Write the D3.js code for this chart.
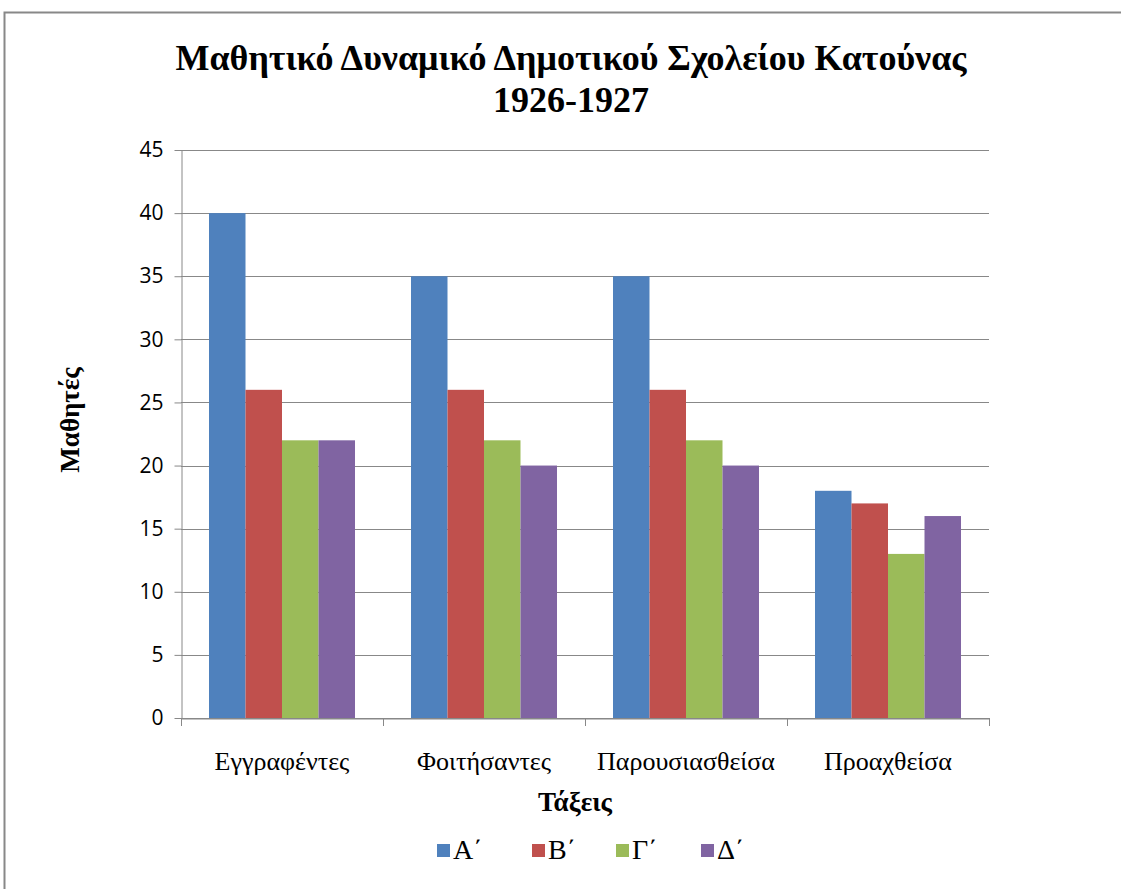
<!DOCTYPE html>
<html>
<head>
<meta charset="utf-8">
<script src="https://cdn.jsdelivr.net/npm/d3@7"></script>
<style>
  body { margin: 0; background: #fff; }
</style>
</head>
<body>
<svg id="chart"></svg>
<script>
const categories = ["Εγγραφέντες", "Φοιτήσαντες", "Παρουσιασθείσα", "Προαχθείσα"];
const seriesNames = ["Α΄", "Β΄", "Γ΄", "Δ΄"];
const seriesA = [40, 35, 35, 18];
const seriesB = [26, 26, 26, 17];
const seriesG = [22, 22, 22, 13];
const seriesD = [22, 20, 20, 16];
const yTicks = [0, 5, 10, 15, 20, 25, 30, 35, 40, 45];
const colors = ["#4F81BD", "#C0504D", "#9BBB59", "#8064A2"];

const allSeries = [seriesA, seriesB, seriesG, seriesD];
const width = 1121, height = 889;
const plotLeft = 181, plotRight = 989, plotTop = 150, plotBottom = 718;
const serif = "Liberation Serif, Times New Roman, serif";

const svg = d3.select("#chart").attr("width", width).attr("height", height);

// outer frame
svg.append("rect")
  .attr("x", 4.5).attr("y", 12.5)
  .attr("width", 1130).attr("height", 900)
  .attr("fill", "none").attr("stroke", "#888").attr("stroke-width", 2);

// title
const title = svg.append("text")
  .attr("text-anchor", "middle")
  .attr("font-family", serif)
  .attr("font-weight", "bold").attr("font-size", 36)
  .attr("fill", "#000");
title.append("tspan").attr("x", 571).attr("y", 70).text("Μαθητικό Δυναμικό Δημοτικού Σχολείου Κατούνας");
title.append("tspan").attr("x", 571).attr("y", 112).text("1926-1927");

const x0 = d3.scaleBand().domain(categories).range([plotLeft, plotRight]).paddingInner(0).paddingOuter(0);
const x1 = d3.scaleBand().domain(d3.range(seriesNames.length)).range([0, x0.bandwidth()]).paddingOuter(0.767).paddingInner(0);
const y = d3.scaleLinear().domain([0, 45]).range([plotBottom, plotTop]);

// gridlines
svg.append("g").selectAll("line").data(yTicks).join("line")
  .attr("x1", plotLeft).attr("x2", plotRight)
  .attr("y1", d => Math.round(y(d)) + 0.5).attr("y2", d => Math.round(y(d)) + 0.5)
  .attr("stroke", "#888").attr("stroke-width", 1);

// bars
const groups = svg.append("g").selectAll("g").data(categories).join("g")
  .attr("transform", d => `translate(${x0(d)},0)`);
groups.selectAll("rect")
  .data((d, i) => allSeries.map((s, j) => ({ s: j, v: s[i] })))
  .join("rect")
  .attr("x", d => x1(d.s))
  .attr("width", x1.bandwidth())
  .attr("y", d => y(d.v))
  .attr("height", d => y(0) - y(d.v))
  .attr("fill", d => colors[d.s]);

// y axis
const yAxis = svg.append("g")
  .attr("transform", `translate(${plotLeft + 0.5},0)`)
  .call(d3.axisLeft(y).tickValues(yTicks).tickSize(7).tickSizeOuter(0).tickPadding(11));
yAxis.select(".domain").attr("stroke", "#888");
yAxis.selectAll(".tick line").attr("stroke", "#888");
yAxis.selectAll(".tick text")
  .attr("font-family", "Open Sans, DejaVu Sans, sans-serif")
  .attr("font-size", 21).attr("fill", "#000");

// x axis
const xAxis = svg.append("g")
  .attr("transform", `translate(0,${plotBottom + 0.5})`)
  .call(d3.axisBottom(x0).tickSize(0).tickSizeOuter(0).tickPadding(33));
xAxis.select(".domain").attr("stroke", "#888");
xAxis.selectAll(".tick text")
  .attr("font-family", serif)
  .attr("font-size", 26).attr("fill", "#000");
// category boundary ticks
svg.append("g").selectAll("line")
  .data(categories.concat(["end"]))
  .join("line")
  .attr("x1", (d, i) => (i < categories.length ? x0(d) : plotRight) + 0.5)
  .attr("x2", (d, i) => (i < categories.length ? x0(d) : plotRight) + 0.5)
  .attr("y1", plotBottom).attr("y2", plotBottom + 8)
  .attr("stroke", "#888");

// axis titles
svg.append("text")
  .attr("x", 575).attr("y", 811)
  .attr("text-anchor", "middle")
  .attr("font-family", serif)
  .attr("font-weight", "bold").attr("font-size", 27)
  .text("Τάξεις");
svg.append("text")
  .attr("transform", "translate(79,420) rotate(-90)")
  .attr("text-anchor", "middle")
  .attr("font-family", serif)
  .attr("font-weight", "bold").attr("font-size", 27)
  .text("Μαθητές");

// legend
const legendX = [437, 532, 616, 701];
const legend = svg.append("g").selectAll("g").data(seriesNames).join("g")
  .attr("transform", (d, i) => `translate(${legendX[i]},844)`);
legend.append("rect").attr("width", 13).attr("height", 13)
  .attr("fill", (d, i) => colors[i]);
legend.append("text")
  .attr("x", 16).attr("y", 15)
  .attr("font-family", serif)
  .attr("font-size", 28)
  .text(d => d);
</script>
</body>
</html>
